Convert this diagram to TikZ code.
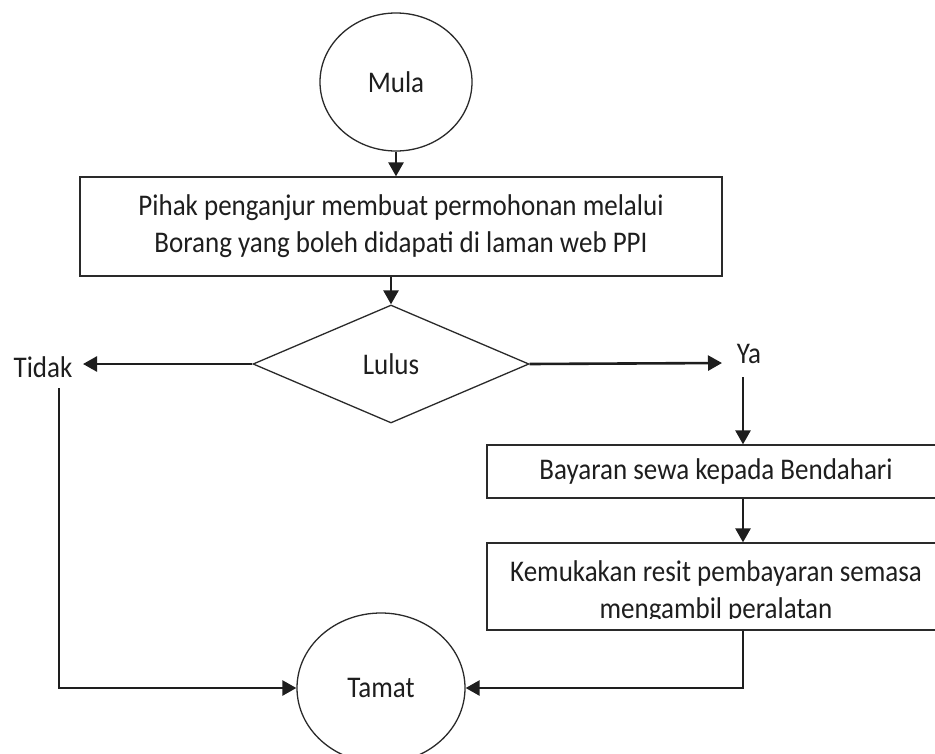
\documentclass[tikz,border=0pt]{standalone}
\usepackage{fontspec}
\setmainfont{Carlito}[FakeStretch=0.9]
\usetikzlibrary{shapes.geometric,arrows.meta}
\definecolor{ink}{HTML}{1E1E1E}
\definecolor{edge}{HTML}{2A2A2A}
\tikzset{
  txt/.style={font=\fontsize{30}{37}\selectfont, text=ink},
  shapeline/.style={draw=edge, line width=1.3pt},
  terminal/.style={ellipse, shapeline, inner sep=0pt, txt},
  procbox/.style={rectangle, shapeline, inner sep=0pt, txt, align=center},
  decision/.style={diamond, shapeline, inner sep=0pt, txt},
  conn/.style={draw=ink, line width=2.6pt, -{Triangle[length=14pt,width=15pt]}},
}
\begin{document}
\begin{tikzpicture}[x=1pt,y=-1pt]
\clip (0,0) rectangle (935,753);
\fill[white] (0,0) rectangle (935,753);

\node[terminal, minimum width=152pt, minimum height=138pt] (mula) at (396,82) {Mula};
\node[procbox, minimum width=642pt, minimum height=99pt] (box1) at (401,226.5)
  {Pihak penganjur membuat permohonan melalui\\Borang yang boleh didapati di laman web PPI};
\node[decision, minimum width=276pt, minimum height=118pt] (dia) at (391,364) {Lulus};
\node[txt, inner sep=0pt] (tidak) at (43,367) {Tidak};
\node[txt, inner sep=0pt] (ya) at (749,354) {Ya};
\node[procbox, minimum width=458pt, minimum height=53pt] (box2) at (716,471.5) {Bayaran sewa kepada Bendahari};
\node[procbox, minimum width=458pt, minimum height=87pt] (box3) at (716,586.5) {};
\begin{scope}
  \clip (487,543) rectangle (945,618);
  \node[txt, align=center, inner sep=0pt] (box3text) at (716,592)
    {Kemukakan resit pembayaran semasa\\mengambil peralatan};
\end{scope}
\node[terminal, minimum width=168pt, minimum height=150pt] (tamat) at (381,688) {Tamat};

\coordinate (tidakin) at (83,364);
\coordinate (tidakout) at (59,388);
\coordinate (yain) at (722,363);
\coordinate (yaout) at (743,377);

\draw[conn] (mula.south) -- (mula.south |- box1.north);
\draw[conn] (dia.north |- box1.south) -- (dia.north);
\draw[conn] (dia.west) -- (tidakin);
\draw[conn] (dia.east) -- (yain);
\draw[conn] (yaout) -- (yaout |- box2.north);
\draw[conn] (yaout |- box2.south) -- (yaout |- box3.north);
\draw[conn] (yaout |- box3.south) |- (tamat.east);
\draw[conn] (tidakout) |- (tamat.west);
\end{tikzpicture}
\end{document}
